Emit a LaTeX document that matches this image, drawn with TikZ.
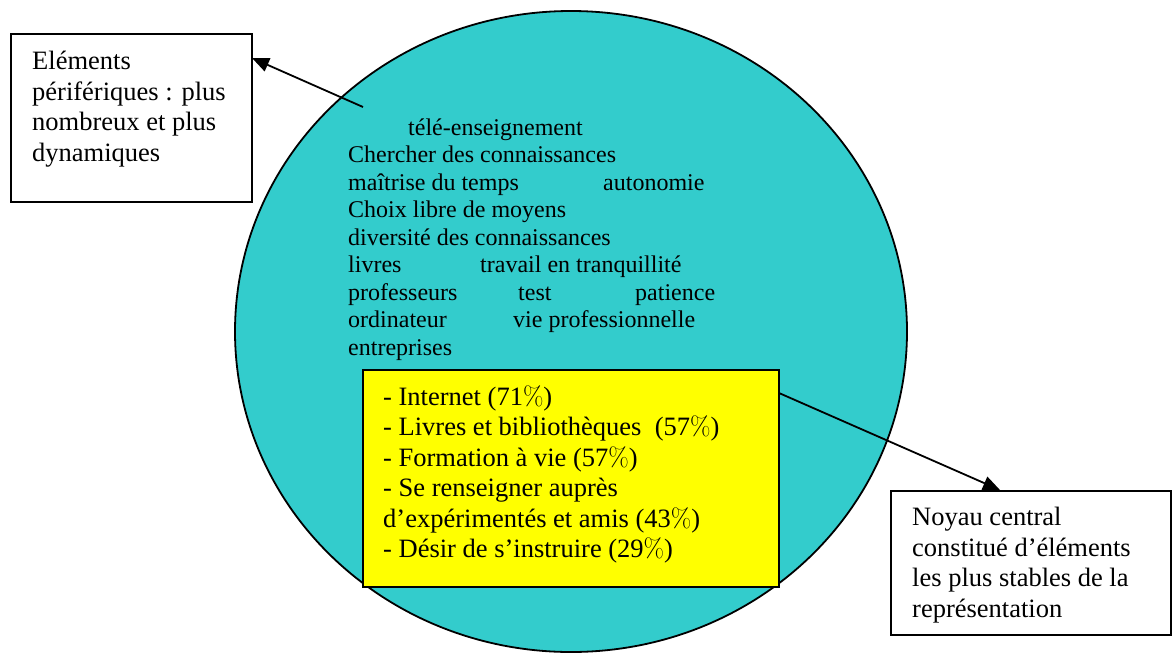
\documentclass[tikz,border=0pt]{standalone}
\usepackage{fontspec}
\setmainfont{Liberation Serif}
\usetikzlibrary{arrows.meta}
\definecolor{cyanfill}{RGB}{51,204,204}
\definecolor{yellowfill}{RGB}{255,255,0}
\newcommand\pct{{\fontfamily{lmr}\selectfont\%}}
\tikzset{
  box/.style={draw=black,line width=1.8pt,fill=white,inner sep=0pt,outer sep=0pt,anchor=north west},
  coretext/.style={anchor=base west,inner sep=0pt,font=\fontsize{26.5}{30.5}\selectfont},
  peritext/.style={anchor=base west,inner sep=0pt,font=\fontsize{24}{27.5}\selectfont},
  conn/.style={draw=black,line width=1.8pt,-{Triangle[length=17pt,width=14pt]}},
}
\begin{document}
\begin{tikzpicture}[x=1pt,y=-1pt]
\useasboundingbox (0,0) rectangle (1173,654);
% big circle
\draw[fill=cyanfill,line width=1.8pt] (571,331.5) ellipse [x radius=336,y radius=320.5];
% peripheral words
\node[peritext] (p1) at (408,135) {télé-enseignement};
\node[peritext] (p2) at (348,162.5) {Chercher des connaissances};
\node[peritext] (p3) at (348,190) {maîtrise du temps};
\node[peritext] (p4) at (603,190) {autonomie};
\node[peritext] (p5) at (348,217.5) {Choix libre de moyens};
\node[peritext] (p6) at (348,245) {diversité des connaissances};
\node[peritext] (p7) at (348,272.5) {livres};
\node[peritext] (p8) at (480,272.5) {travail en tranquillité};
\node[peritext] (p9) at (348,300) {professeurs};
\node[peritext] (p10) at (518,300) {test};
\node[peritext] (p11) at (635,300) {patience};
\node[peritext] (p12) at (348,327.5) {ordinateur};
\node[peritext] (p13) at (513,327.5) {vie professionnelle};
\node[peritext] (p14) at (348,355) {entreprises};
% central core
\node[box,fill=yellowfill,minimum width=416pt,minimum height=217pt] (core) at (363,370) {};
\node[coretext] (c1) at (383,405) {- Internet (71\pct)};
\node[coretext] (c2) at (383,435.5) {- Livres et bibliothèques\ \ (57\pct)};
\node[coretext] (c3) at (383,466) {- Formation à vie (57\pct)};
\node[coretext] (c4) at (383,496.5) {- Se renseigner auprès};
\node[coretext] (c5) at (383,527) {d’expérimentés et amis (43\pct)};
\node[coretext] (c6) at (383,557.5) {- Désir de s’instruire (29\pct)};
% connectors
\coordinate (a1s) at (363,107);
\coordinate (a1e) at (252,58);
\coordinate (a2s) at (779,393);
\coordinate (a2e) at (1000,490);
\draw[conn] (a1s) -- (a1e);
\draw[conn] (a2s) -- (a2e);
% label boxes
\node[box,minimum width=241pt,minimum height=168pt] (left) at (11,34) {};
\node[coretext] (l1) at (32,69) {Eléments};
\node[coretext] (l2) at (32,100) {périfériques : plus};
\node[coretext] (l3) at (32,130.5) {nombreux et plus};
\node[coretext] (l4) at (32,161.5) {dynamiques};
\node[box,minimum width=280pt,minimum height=144pt] (right) at (891,491) {};
\node[coretext] (r1) at (912,525.5) {Noyau central};
\node[coretext] (r2) at (912,556) {constitué d’éléments};
\node[coretext] (r3) at (912,586.5) {les plus stables de la};
\node[coretext] (r4) at (912,617) {représentation};
\end{tikzpicture}
\end{document}
